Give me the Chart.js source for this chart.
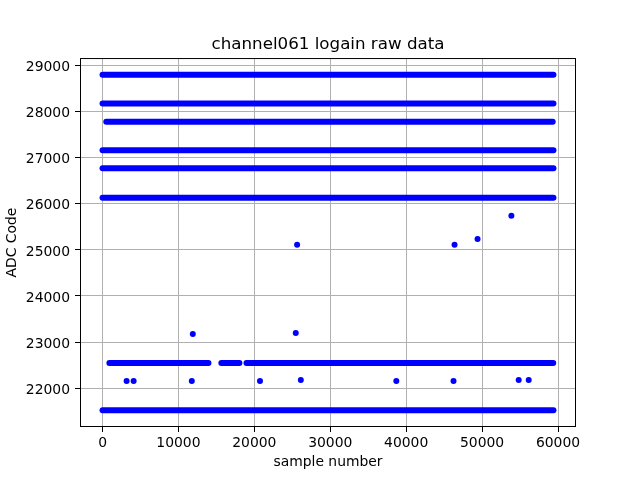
<!DOCTYPE html>
<html><head><meta charset="utf-8">
<script src="https://cdn.jsdelivr.net/npm/chart.js@4/dist/chart.umd.min.js"></script>
<style>html,body{margin:0;padding:0;background:#fff}</style>
</head><body>
<canvas id="c" width="640" height="480" style="width:640px;height:480px;display:block"></canvas>
<script>
// ADC levels of the dense bands and the sample ranges each band covers
const bandLevels = [28800, 28175, 27780, 27160, 26770, 26130, 22545, 21520];
const bandSegments = [
  [[0, 59400]],
  [[0, 59400]],
  [[490, 59300]],
  [[0, 59400]],
  [[0, 59400]],
  [[0, 59400]],
  [[900, 13950], [15650, 18030], [18960, 59370]],
  [[0, 59400]]
];
// isolated samples
const outlierX = [3170, 4095, 11757, 11890, 20740, 25455, 25630, 26120, 38700, 46235, 46370, 49400, 53860, 54820, 56140];
const outlierY = [22152, 22152, 22152, 23174, 22152, 23196, 25109, 22174, 22152, 22152, 25109, 25239, 25739, 22174, 22174];
const xTicks = [0, 10000, 20000, 30000, 40000, 50000, 60000];
const yTicks = [22000, 23000, 24000, 25000, 26000, 27000, 28000, 29000];

const BLUE = '#0000ff';
const datasets = [];
bandLevels.forEach((lvl, i) => {
  const pts = [];
  bandSegments[i].forEach((seg, j) => {
    if (j > 0) pts.push({x: seg[0], y: null});
    pts.push({x: seg[0], y: lvl});
    pts.push({x: seg[1], y: lvl});
  });
  datasets.push({
    data: pts, showLine: true, spanGaps: false,
    borderColor: BLUE, borderWidth: 6, borderCapStyle: 'round',
    pointRadius: 0, pointHoverRadius: 0
  });
});
datasets.push({
  data: outlierX.map((x, i) => ({x: x, y: outlierY[i]})),
  showLine: false, pointRadius: 3, pointBorderWidth: 0,
  backgroundColor: BLUE, borderColor: BLUE
});

const spines = {
  id: 'spines',
  afterDatasetsDraw(chart) {
    const a = chart.chartArea, ctx = chart.ctx;
    ctx.save();
    ctx.strokeStyle = '#000';
    ctx.lineWidth = 1;
    ctx.strokeRect(a.left + 0.5, a.top + 0.5, a.right - a.left - 1, a.bottom - a.top - 1);
    ctx.restore();
  }
};

Chart.defaults.font.family = 'DejaVu Sans';
Chart.defaults.font.size = 13.9;
Chart.defaults.color = '#000';

new Chart(document.getElementById('c'), {
  type: 'scatter',
  data: {datasets},
  plugins: [spines],
  options: {
    responsive: false, animation: false, events: [],
    layout: {padding: {left: 0, right: 64, top: 0, bottom: 0}},
    plugins: {
      legend: {display: false}, tooltip: {enabled: false},
      title: {
        display: true, text: 'channel061 logain raw data', fullSize: false,
        font: {size: 16.7, weight: 'normal'}, color: '#000',
        padding: {top: 34.5, bottom: 3.5}
      }
    },
    scales: {
      x: {
        type: 'linear', min: -2970, max: 62370,
        afterBuildTicks: s => { s.ticks = xTicks.map(v => ({value: v})); },
        afterFit: s => { s.height = 53; },
        grid: {color: '#b0b0b0', lineWidth: 1, tickColor: '#000', tickLength: 5, drawTicks: true},
        border: {display: false},
        ticks: {padding: 3, maxRotation: 0, autoSkip: false, callback: v => String(v)},
        title: {display: true, text: 'sample number', padding: {top: 0, bottom: 9.4}}
      },
      y: {
        type: 'linear', min: 21156, max: 29164,
        afterBuildTicks: s => { s.ticks = yTicks.map(v => ({value: v})); },
        afterFit: s => { s.width = 80; },
        grid: {color: '#b0b0b0', lineWidth: 1, tickColor: '#000', tickLength: 5, drawTicks: true},
        border: {display: false},
        ticks: {padding: 5, labelOffset: 2, autoSkip: false, callback: v => String(v)},
        title: {display: true, text: 'ADC Code', padding: {top: 3.7, bottom: 0}}
      }
    }
  }
});
</script>
</body></html>
